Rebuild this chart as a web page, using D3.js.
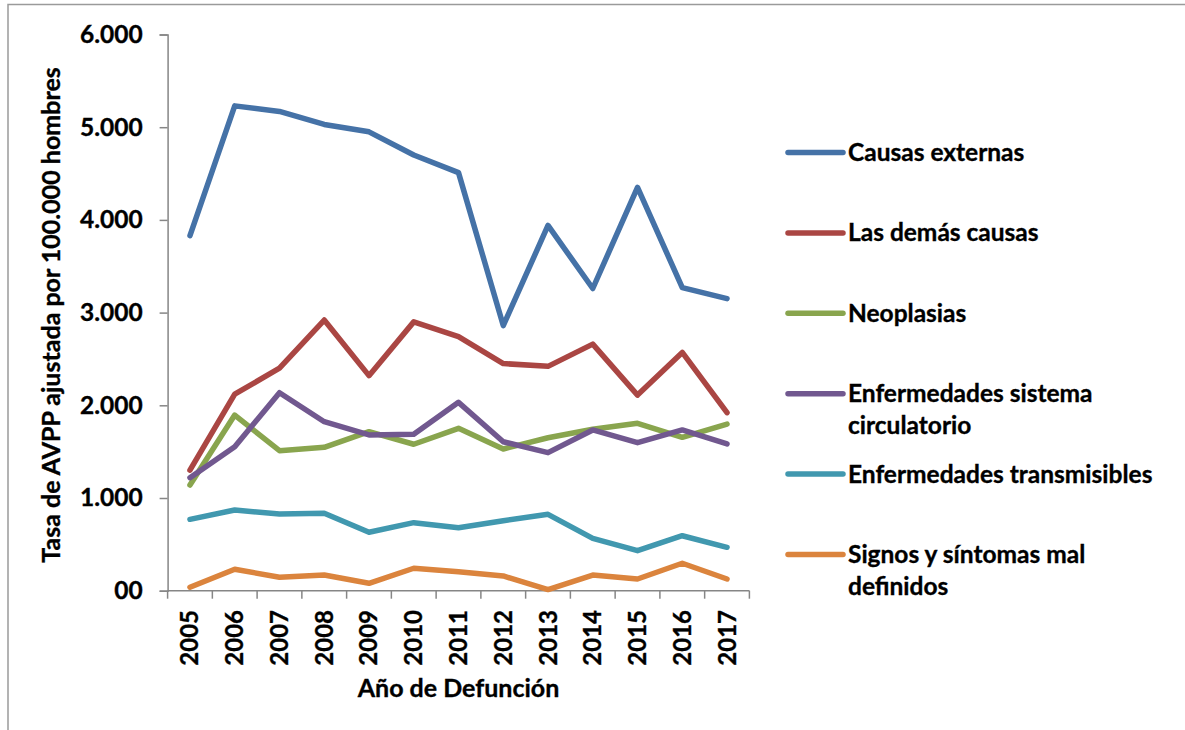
<!DOCTYPE html>
<html>
<head>
<meta charset="utf-8">
<script src="https://cdn.jsdelivr.net/npm/d3@7"></script>
<style>
  body { margin: 0; background: #fff; }
  svg text { font-family: Lato, "Open Sans", sans-serif; font-weight: 700; fill: #000; stroke: #000; stroke-width: 0.35px; }
</style>
</head>
<body>
<svg id="chart" width="1185" height="730"></svg>
<script>
// years on the x axis
var years = ["2005", "2006", "2007", "2008", "2009", "2010", "2011", "2012", "2013", "2014", "2015", "2016", "2017"];

// series values (tasa de AVPP por 100.000 hombres)
var causasExternas = [3830, 5230, 5170, 5030, 4950, 4700, 4510, 2860, 3940, 3260, 4350, 3270, 3150];
var demasCausas = [1300, 2120, 2400, 2920, 2320, 2900, 2740, 2450, 2420, 2660, 2110, 2570, 1920];
var neoplasias = [1140, 1895, 1510, 1547, 1715, 1580, 1752, 1529, 1650, 1741, 1806, 1655, 1798];
var circulatorio = [1219, 1553, 2136, 1823, 1680, 1687, 2032, 1607, 1489, 1734, 1597, 1734, 1583];
var transmisibles = [770, 871, 827, 835, 630, 734, 680, 755, 824, 565, 432, 593, 468];
var signos = [37, 231, 145, 169, 80, 242, 205, 159, 12, 169, 126, 296, 126];

var seriesNames = [
    ["Causas externas"],
    ["Las demás causas"],
    ["Neoplasias"],
    ["Enfermedades sistema", "circulatorio"],
    ["Enfermedades transmisibles"],
    ["Signos y síntomas mal", "definidos"]
];
var seriesValues = [causasExternas, demasCausas, neoplasias, circulatorio, transmisibles, signos];
var seriesColors = ["#4572A7", "#AA4643", "#89A54E", "#71588F", "#4198AF", "#DB843D"];

var yTicks = [0, 1000, 2000, 3000, 4000, 5000, 6000];

var svg = d3.select("#chart");
var axisColor = "#868686";

// outer frame of the chart area (cut by the page edge)
svg.append("rect")
    .attr("x", 8).attr("y", 4.5)
    .attr("width", 1200).attr("height", 760)
    .attr("fill", "none")
    .attr("stroke", "#9a9a9a")
    .attr("stroke-width", 1.5);

var x = d3.scaleBand()
    .domain(years)
    .range([167.6, 749.4]);

var y = d3.scaleLinear()
    .domain([0, 6000])
    .range([590.7, 34.5]);

var locale = d3.formatLocale({ decimal: ",", thousands: ".", grouping: [3], currency: ["$", ""] });
var fmt = locale.format(",");

// y axis
var yAxis = svg.append("g")
    .attr("transform", "translate(" + x.range()[0] + ",0)")
    .call(d3.axisLeft(y)
        .tickValues(yTicks)
        .tickSize(8)
        .tickPadding(17)
        .tickFormat(function (d) { return d === 0 ? "00" : fmt(d); }));
yAxis.select(".domain").attr("stroke", axisColor).attr("stroke-width", 1.5);
yAxis.selectAll(".tick line").attr("stroke", axisColor).attr("stroke-width", 1.5);
yAxis.selectAll(".tick text")
    .style("font-family", "Lato, sans-serif")
    .style("font-weight", 700)
    .style("font-size", "24.5px")
    .attr("fill", "#000");

// x axis: line plus ticks on band boundaries
var xg = svg.append("g");
xg.append("line")
    .attr("x1", x.range()[0]).attr("x2", x.range()[1])
    .attr("y1", y(0)).attr("y2", y(0))
    .attr("stroke", axisColor).attr("stroke-width", 1.5);
var bounds = years.map(function (d) { return x(d); }).concat([x.range()[1]]);
xg.selectAll(".xtick")
    .data(bounds)
    .enter().append("line")
    .attr("class", "xtick")
    .attr("x1", function (d) { return d; })
    .attr("x2", function (d) { return d; })
    .attr("y1", y(0))
    .attr("y2", y(0) + 8)
    .attr("stroke", axisColor).attr("stroke-width", 1.5);
xg.selectAll(".xlabel")
    .data(years)
    .enter().append("text")
    .attr("class", "xlabel")
    .attr("transform", function (d) {
        return "translate(" + (x(d) + x.bandwidth() / 2 + 8.5) + ",610) rotate(-90)";
    })
    .attr("text-anchor", "end")
    .style("font-size", "24px")
    .text(function (d) { return d; });

// axis titles
svg.append("text")
    .attr("x", (x.range()[0] + x.range()[1]) / 2)
    .attr("y", 697)
    .attr("text-anchor", "middle")
    .style("font-size", "25px")
    .text("Año de Defunción");

svg.append("text")
    .attr("transform", "translate(60," + 315 + ") rotate(-90)")
    .attr("text-anchor", "middle")
    .style("font-size", "25px")
    .text("Tasa de AVPP ajustada por 100.000 hombres");

// lines
var line = d3.line()
    .x(function (d, i) { return x(years[i]) + x.bandwidth() / 2; })
    .y(function (d) { return y(d); });

svg.selectAll(".series")
    .data(seriesValues)
    .enter().append("path")
    .attr("class", "series")
    .attr("d", line)
    .attr("fill", "none")
    .attr("stroke", function (d, i) { return seriesColors[i]; })
    .attr("stroke-width", 5.5)
    .attr("stroke-linejoin", "round")
    .attr("stroke-linecap", "round");

// legend
var legend = svg.selectAll(".legend")
    .data(seriesNames)
    .enter().append("g")
    .attr("class", "legend")
    .attr("transform", function (d, i) { return "translate(788," + (152.5 + i * 80.4) + ")"; });

legend.append("line")
    .attr("x1", 0).attr("x2", 55)
    .attr("y1", 0).attr("y2", 0)
    .attr("stroke", function (d, i) { return seriesColors[i]; })
    .attr("stroke-width", 5.5)
    .attr("stroke-linecap", "round");

legend.append("text")
    .attr("x", 60)
    .attr("y", 8.5)
    .style("font-size", "24.5px")
    .selectAll("tspan")
    .data(function (d) { return d; })
    .enter().append("tspan")
    .attr("x", 60)
    .attr("dy", function (d, i) { return i === 0 ? 0 : 31.5; })
    .text(function (d) { return d; });
</script>
</body>
</html>
